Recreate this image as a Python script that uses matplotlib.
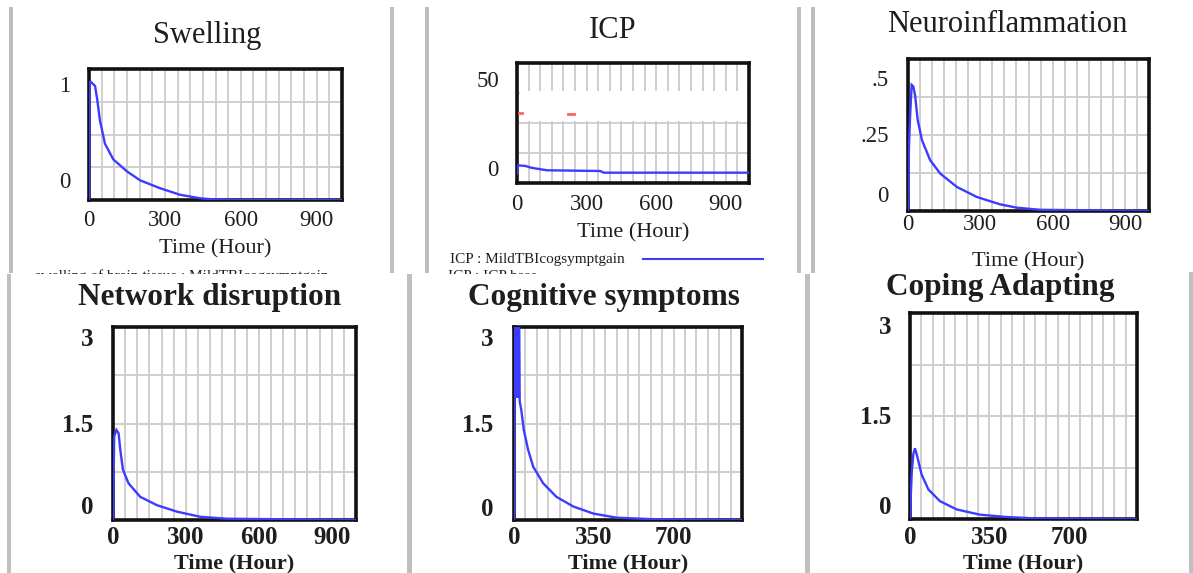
import numpy as np
import matplotlib
matplotlib.use("Agg")
import matplotlib.pyplot as plt
from matplotlib.patches import Rectangle
from matplotlib.lines import Line2D
from matplotlib.transforms import ScaledTranslation

plt.rcParams['font.family'] = ['Liberation Serif', 'DejaVu Serif']

# ---------------- data ----------------
swelling_t = [0, 2, 8, 24, 33, 43, 63, 96, 149, 202, 281, 360, 439, 491, 600, 1000]
swelling_v = [0, 0.90, 0.90, 0.87, 0.76, 0.61, 0.43, 0.31, 0.22, 0.15, 0.09, 0.04, 0.013, 0.005, 0.0, 0.0]

icp_t = [0, 3, 36, 64, 129, 358, 375, 1000]
icp_v = [3.9, 7.4, 7.1, 6.3, 5.3, 5.0, 4.3, 4.3]
icp_base_t = [9, 22, np.nan, 220, 246]
icp_base_v = [29.0, 29.0, np.nan, 28.7, 28.7]

neuro_t = [0, 4, 8, 15, 22, 30, 40, 58, 92, 134, 203, 286, 382, 451, 548, 1000]
neuro_v = [0, 0.21, 0.30, 0.415, 0.41, 0.377, 0.30, 0.233, 0.167, 0.123, 0.079, 0.046, 0.022, 0.011, 0.004, 0]

network_t = [0, 5, 14, 23, 30, 41, 64, 112, 181, 263, 359, 468, 1000]
network_v = [0, 1.30, 1.40, 1.35, 1.09, 0.78, 0.57, 0.36, 0.23, 0.13, 0.05, 0.02, 0]

cognitive_t = [0, 3, 7, 10, 13, 16, 19, 22, 25, 32, 43, 62, 84, 128, 186, 260, 348, 450, 626, 1000]
cognitive_v = [0, 3.6, 1.9, 3.6, 1.9, 3.6, 1.9, 3.6, 1.84, 1.71, 1.40, 1.09, 0.83, 0.57, 0.36, 0.21, 0.10, 0.036, 0.01, 0]

coping_t = [0, 4, 8, 15, 22, 32, 37, 51, 81, 132, 205, 308, 425, 543, 1000]
coping_v = [0, 0.38, 0.70, 0.95, 1.03, 0.91, 0.84, 0.65, 0.43, 0.26, 0.14, 0.063, 0.029, 0.01, 0]

titles = ['Swelling', 'ICP', 'Neuroinflammation',
          'Network disruption', 'Cognitive symptoms', 'Coping Adapting']
x_label = 'Time (Hour)'
xticks_300 = [0, 300, 600, 900]
xticks_350 = [0, 350, 700]
yticks_swelling = [0, 1]
ylabels_swelling = ['0', '1']
yticks_icp = [0, 50]
ylabels_icp = ['0', '50']
yticks_neuro = [0, 0.25, 0.5]
ylabels_neuro = ['0', '.25', '.5']
yticks_3 = [0, 1.5, 3]
ylabels_3 = ['0', '1.5', '3']
legend_text = 'ICP : MildTBIcogsymptgain'
cut_text_1 = 'swelling of brain tissue : MildTBIcogsymptgain'
cut_text_2 = 'ICP : ICP base'

# ---------------- layout / style ----------------
W, H = 1193, 573
BLUE = '#3c3cff'
GRID = '#cccccc'
SEP = '#bfbfbf'
TXT = '#1e1e1e'

fig = plt.figure(figsize=(W / 100, H / 100), dpi=100)
fig.patch.set_facecolor('white')

canvas = fig.add_axes([0, 0, 1, 1])
canvas.set_xlim(0, W)
canvas.set_ylim(H, 0)
canvas.axis('off')
canvas.set_zorder(-1)


def make_panel(box, ylim, t, v, xticks, yticks, ylabels, ylab_centers, ylab_right,
               xlab_center, time_center, title, title_center, bold, extra=None):
    x0, y0, x1, y1 = box
    w, h = x1 - x0, y1 - y0
    ax = fig.add_axes([x0 / W, 1 - y1 / H, w / W, h / H])
    ax.set_xlim(0, 1000)
    ax.set_ylim(*ylim)
    ax.plot(t, v, color=BLUE, lw=1.7, zorder=3, solid_joinstyle='miter')
    if extra is not None:
        extra(ax)
    ax.set_xticks(np.arange(0, 1001, 50), minor=True)
    ax.set_yticks(np.linspace(ylim[0], ylim[1], 5), minor=True)
    ax.set_xticks(xticks, [str(x) for x in xticks])
    ax.set_yticks(yticks, ylabels)
    ax.grid(which='both', color=GRID, lw=1.3)
    ax.set_axisbelow(True)
    for s in ax.spines.values():
        s.set_linewidth(2.6)
        s.set_color('#111111')
    weight = 'bold' if bold else 'normal'
    tfs = 18 if bold else 16.5
    ax.tick_params(which='both', length=0)
    ax.tick_params(axis='x', pad=(xlab_center - y1) * 0.72, labelsize=tfs, labelcolor=TXT)
    ax.tick_params(axis='y', pad=(x0 - ylab_right) * 0.72, labelsize=tfs, labelcolor=TXT)
    for lab in ax.get_xticklabels():
        lab.set_va('center')
        lab.set_fontweight(weight)
    for lab, val, c in zip(ax.get_yticklabels(), yticks, ylab_centers):
        tick_px = y0 + (ylim[1] - val) / (ylim[1] - ylim[0]) * h
        dy = (tick_px - c) / 100.0
        lab.set_transform(lab.get_transform() + ScaledTranslation(0, dy, fig.dpi_scale_trans))
        lab.set_va('center')
        lab.set_fontweight(weight)
    ax.set_xlabel(x_label, fontsize=16, fontweight=weight, color=TXT, va='center')
    ax.xaxis.set_label_coords(0.5, -(time_center - y1) / h)
    ax.set_title(title, fontsize=22.5 if bold else 22, fontweight=weight, color=TXT,
                 va='center', pad=0, y=1 + (y0 - title_center[1]) / h)
    ax.title.set_x((title_center[0] - x0) / w)
    return ax


def icp_extra(ax):
    ax.add_patch(Rectangle((0.015, 0.52), 0.975, 0.245, transform=ax.transAxes,
                           facecolor='white', edgecolor='none', zorder=2))
    ax.plot(icp_base_t, icp_base_v, color='#ff6060', lw=2, zorder=3)


# top row
make_panel((89, 69, 342, 200), (0, 1), swelling_t, swelling_v, xticks_300,
           yticks_swelling, ylabels_swelling, [183, 86], 70, 221, 249,
           titles[0], (207, 35), False)
make_panel((517, 63, 749, 183), (0, 50), icp_t, icp_v, xticks_300,
           yticks_icp, ylabels_icp, [170, 81], 499, 204, 233,
           titles[1], (613, 31), False, extra=icp_extra)
make_panel((908, 59, 1149, 211), (0, 0.5), neuro_t, neuro_v, xticks_300,
           yticks_neuro, ylabels_neuro, [197, 137, 80], 889, 224, 262,
           titles[2], (1007, 25), False)
# bottom row
make_panel((113, 327, 356, 520), (0, 3), network_t, network_v, xticks_300,
           yticks_3, ylabels_3, [508, 425, 339], 93, 537, 563,
           titles[3], (210, 297), True)
make_panel((514, 327, 742, 520), (0, 3), cognitive_t, cognitive_v, xticks_350,
           yticks_3, ylabels_3, [509, 425, 340], 493, 538, 563,
           titles[4], (604, 298), True)
make_panel((910, 313, 1137, 519), (0, 3), coping_t, coping_v, xticks_350,
           yticks_3, ylabels_3, [508, 418, 327], 891, 538, 563,
           titles[5], (1000, 287), True)

# legend fragment under ICP
canvas.text(450, 259, legend_text, fontsize=11, color=TXT, ha='left', va='center', zorder=3)
canvas.add_line(Line2D([643, 763], [259, 259], color=BLUE, lw=1.5, zorder=3))
# partially hidden legend lines
canvas.text(182, 269.5, cut_text_1, fontsize=11, color=TXT, ha='center', va='top', zorder=3)
canvas.text(448, 270, cut_text_2, fontsize=11, color=TXT, ha='left', va='top', zorder=3)
# bottom screenshots cover the lower part of the top ones
canvas.add_patch(Rectangle((0, 273.5), W, H - 273.5, facecolor='white', edgecolor='none', zorder=4))

# grey panel separators
seps = [(9, 7, 4, 266), (390, 7, 3.5, 266), (425, 7, 4, 266), (797, 7, 4, 266), (811, 7, 4, 266),
        (7, 273.5, 3.5, 300), (407, 274, 5, 300), (805, 274, 5, 300), (1189, 272, 4, 301)]
for (sx, sy, sw, sh) in seps:
    canvas.add_patch(Rectangle((sx, sy), sw, sh, facecolor=SEP, edgecolor='none', zorder=5))

fig.savefig('out.png', dpi=100, facecolor='white')
